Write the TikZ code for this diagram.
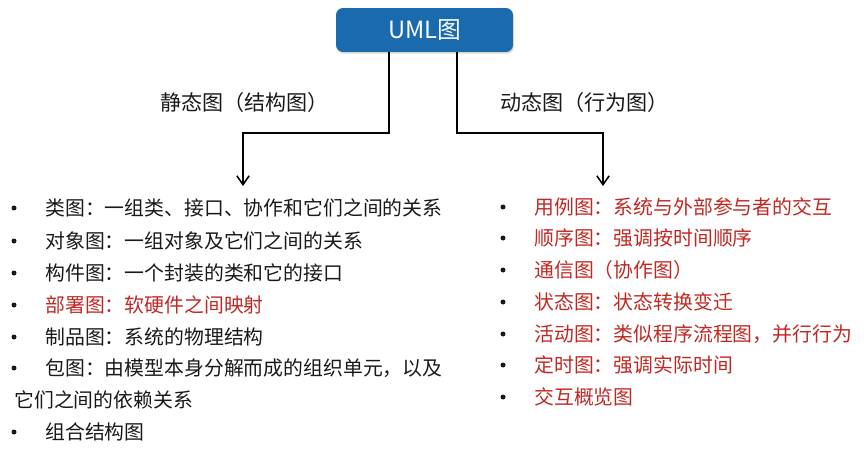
\documentclass[tikz,border=0pt]{standalone}
\usepackage{fontspec}
\setmainfont{Noto Sans CJK SC}
\usetikzlibrary{shadows,arrows.meta}
\definecolor{umlblue}{RGB}{26,106,174}
\definecolor{itemred}{RGB}{192,40,36}
\definecolor{itemblack}{RGB}{25,25,25}
\tikzset{
  listtext/.style={anchor=west,inner sep=0pt,text=itemblack,font=\fontsize{11.3pt}{13pt}\selectfont},
  redtext/.style={listtext,text=itemred},
  headtext/.style={anchor=west,inner sep=0pt,text=itemblack,font=\fontsize{12pt}{14pt}\selectfont},
  link/.style={draw=black,line width=0.9pt,-{Straight Barb[length=5pt,width=7pt]}}
}

\begin{document}
\begin{tikzpicture}[x=0.02cm,y=-0.02cm]
                \useasboundingbox (0,0) rectangle (865,449);
                \node[fill=umlblue,rounded corners=4pt,minimum width=3.54cm,minimum height=0.88cm,
                      drop shadow={opacity=0.3,shadow xshift=0.5pt,shadow yshift=-1pt},
                      text=white,font=\fontsize{13.5pt}{15pt}\selectfont] (uml) at (424.5,30) {UML图};
                \node[headtext] (static) at (160,102) {静态图（结构图）};
                \node[headtext] (dynamic) at (500,102) {动态图（行为图）};
                \coordinate (lend) at (243,186);
                \coordinate (rend) at (603,186);
                \draw[link] (uml.south -| 389,0) -- (389,133) -| (lend);
                \draw[link] (uml.south -| 457,0) -- (457,133) -| (rend);
                % left list
                \fill[itemblack] (14,208) circle (2.5);
                \node[listtext] (class) at (45,208) {类图：一组类、接口、协作和它们之间的关系};
                \fill[itemblack] (14,241) circle (2.5);
                \node[listtext] (object) at (45,241) {对象图：一组对象及它们之间的关系};
                \fill[itemblack] (14,273) circle (2.5);
                \node[listtext] (component) at (45,273) {构件图：一个封装的类和它的接口};
                \fill[itemblack] (14,305) circle (2.5);
                \node[redtext] (deploy) at (45,305) {部署图：软硬件之间映射};
                \fill[itemblack] (14,337) circle (2.5);
                \node[listtext] (artifact) at (45,337) {制品图：系统的物理结构};
                \fill[itemblack] (14,368) circle (2.5);
                \node[listtext] (package) at (45,368) {包图：由模型本身分解而成的组织单元，以及};
                \node[listtext] (package2) at (14,400) {它们之间的依赖关系};
                \fill[itemblack] (14,432) circle (2.5);
                \node[listtext] (composite) at (45,432) {组合结构图};
                % right list
                \fill[itemblack] (503,207) circle (2.5);
                \node[redtext] (usecase) at (534,207) {用例图：系统与外部参与者的交互};
                \fill[itemblack] (503,238) circle (2.5);
                \node[redtext] (sequence) at (534,238) {顺序图：强调按时间顺序};
                \fill[itemblack] (503,270) circle (2.5);
                \node[redtext] (comm) at (534,270) {通信图（协作图）};
                \fill[itemblack] (503,302) circle (2.5);
                \node[redtext] (state) at (534,302) {状态图：状态转换变迁};
                \fill[itemblack] (503,334) circle (2.5);
                \node[redtext] (activity) at (534,334) {活动图：类似程序流程图，并行行为};
                \fill[itemblack] (503,365) circle (2.5);
                \node[redtext] (timing) at (534,365) {定时图：强调实际时间};
                \fill[itemblack] (503,397) circle (2.5);
                \node[redtext] (overview) at (534,397) {交互概览图};
            \end{tikzpicture}
\end{document}
